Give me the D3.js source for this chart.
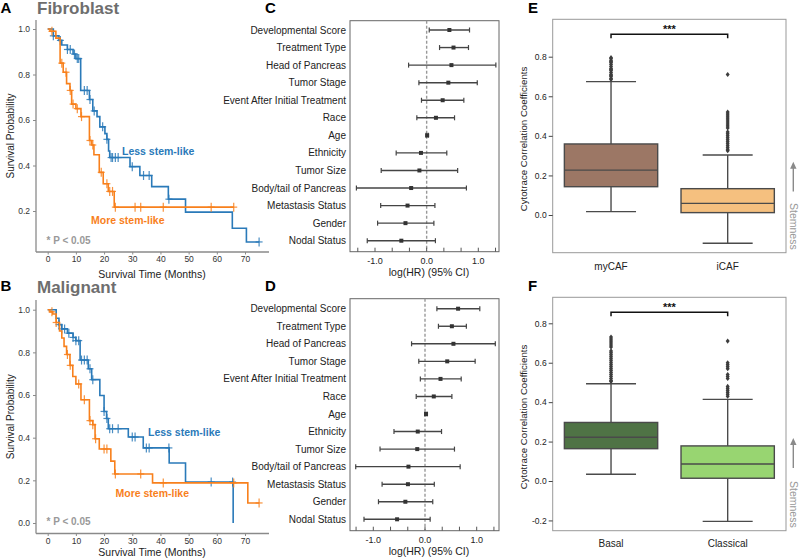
<!DOCTYPE html>
<html><head><meta charset="utf-8">
<script src="https://cdn.jsdelivr.net/npm/d3@7"></script>
<style>body{margin:0;background:#fff}</style>
</head><body>
<script>
// ---------- DATA ----------
const kmTicksX = [0,10,20,30,40,50,60,70];
const kmTicksYA = [0.2,0.4,0.6,0.8,1.0];
const kmTicksYB = [0.0,0.2,0.4,0.6,0.8,1.0];

const blueA_t = [0,2,4,5,7,9,10,11.7,14.8,16,17.5,18.5,20.3,21,21.6,22,29.2,32.7,36.9,42.8,48.9,65.5,70.5,75];
const blueA_s = [1,0.97,0.95,0.93,0.91,0.89,0.87,0.73,0.69,0.64,0.615,0.57,0.54,0.515,0.464,0.435,0.395,0.356,0.307,0.252,0.195,0.124,0.064,0.064];
const blueA_c = [2,4.5,7,8,9.5,10.5,11,13,14,15,16.5,19.5,21,22.5,23,24,25,30,34,36,43,75];

const orangeA_t = [0,0.8,2.9,4.4,5.5,6.7,7.9,8.5,10,11.8,14.8,15.6,16.4,18.3,19.7,21.5,23.6,66];
const orangeA_s = [1,0.99,0.96,0.85,0.81,0.76,0.73,0.67,0.65,0.615,0.51,0.49,0.447,0.37,0.32,0.286,0.217,0.217];
const orangeA_c = [1.5,5,6.5,8,9,10.5,12,15,16,19,21,22,23,24,31,33,41,58,66];

const blueB_t = [0,3,4,5,7,9,10,11.5,14.4,15.6,18.5,20,20.9,21.5,28.6,33.9,43.1,48.9,65.8];
const blueB_s = [1,0.96,0.93,0.91,0.89,0.87,0.855,0.764,0.723,0.672,0.598,0.523,0.49,0.442,0.403,0.352,0.281,0.192,0.0];
const blueB_c = [4,5,6,7.5,9,10,11,12,13,14,15,16,20,21,22,23,25,30,31,35,36,43,58,65.6];

const orangeB_t = [0,0.8,1.8,3,4.2,5,5.8,6.7,7.9,8.9,10,11.8,14.8,16,16.8,18.3,22.4,23.8,37.2,71,75];
const orangeB_s = [1,0.99,0.98,0.94,0.9,0.867,0.828,0.79,0.739,0.687,0.652,0.578,0.48,0.461,0.395,0.347,0.29,0.23,0.188,0.094,0.094];
const orangeB_c = [1.5,3,7,8,11,13,15,16,17,20,21,24,33,41,66,75];

const covariates = ["Developmental Score","Treatment Type","Head of Pancreas","Tumor Stage","Event After Initial Treatment","Race","Age","Ethnicity","Tumor Size","Body/tail of Pancreas","Metastasis Status","Gender","Nodal Status"];
const hrC = [0.44,0.52,0.48,0.42,0.31,0.18,0.01,-0.11,-0.14,-0.30,-0.37,-0.41,-0.49];
const loC = [0.05,0.25,-0.35,-0.15,-0.10,-0.19,-0.01,-0.59,-0.88,-1.36,-0.89,-0.95,-1.15];
const hiC = [0.83,0.81,1.34,0.98,0.72,0.54,0.03,0.39,0.60,0.77,0.16,0.14,0.17];
const hrD = [0.64,0.52,0.55,0.43,0.30,0.17,0.02,-0.14,-0.15,-0.32,-0.33,-0.38,-0.54];
const loD = [0.23,0.26,-0.26,-0.12,-0.09,-0.17,0.00,-0.60,-0.87,-1.34,-0.83,-0.90,-1.18];
const hiD = [1.06,0.80,1.36,0.97,0.70,0.52,0.04,0.32,0.57,0.68,0.18,0.15,0.10];
const forestTickLabels = [-1,0,1];

const groupsE = ["myCAF","iCAF"];
const statsE = [ {q1:0.143, med:0.227, q3:0.359, lo:0.017, hi:0.674},
                 {q1:0.012, med:0.059, q3:0.133, lo:-0.143, hi:0.303} ];
const outE = [ [0.685,0.69,0.70,0.705,0.71,0.72,0.73,0.735,0.74,0.75,0.76,0.77,0.775,0.78,0.79,0.795],
               [0.325,0.33,0.34,0.35,0.36,0.37,0.38,0.39,0.40,0.41,0.42,0.44,0.45,0.46,0.47,0.48,0.49,0.50,0.51,0.52,0.71] ];
const groupsF = ["Basal","Classical"];
const statsF = [ {q1:0.164, med:0.222, q3:0.297, lo:0.034, hi:0.493},
                 {q1:0.014, med:0.086, q3:0.178, lo:-0.205, hi:0.414} ];
const outF = [ [0.505,0.51,0.52,0.53,0.54,0.55,0.56,0.57,0.58,0.59,0.60,0.61,0.62,0.63,0.64,0.65,0.66,0.68,0.69,0.70,0.71,0.72,0.73],
               [0.43,0.44,0.45,0.46,0.47,0.48,0.52,0.53,0.54,0.57,0.58,0.59,0.60,0.71] ];
const boxTicksE = [0.0,0.2,0.4,0.6,0.8];
const boxTicksF = [-0.2,0.0,0.2,0.4,0.6,0.8];

// ---------- DRAW ----------
const FONT = "'Liberation Sans', Arial, Helvetica, sans-serif";
const BLUE = "#2a7ab9", ORANGE = "#f8801c";
const svg = d3.select("body").append("svg").attr("width",800).attr("height",558)
  .style("font-family",FONT);
svg.append("rect").attr("width",800).attr("height",558).attr("fill","#fff");

function txt(g,x,y,s,o={}){
  const t=g.append("text").attr("x",x).attr("y",y).text(s)
    .attr("font-size",o.size||10).attr("fill",o.fill||"#222")
    .attr("text-anchor",o.anchor||"start").attr("font-weight",o.weight||"normal");
  if(o.rotate!==undefined) t.attr("transform",`rotate(${o.rotate},${x},${y})`);
  return t;
}

function stepAt(ts,ss,t){ let v=ss[0]; for(let i=0;i<ts.length;i++){ if(ts[i]<=t) v=ss[i]; } return v; }

function km(cfg){
  const g = svg.append("g");
  const x = d3.scaleLinear().domain([0,70]).range([47.7,245]);
  const y = d3.scaleLinear().domain([0,1]).range([cfg.y0,cfg.y1]);
  g.append("line").attr("x1",36).attr("x2",36).attr("y1",cfg.axTop).attr("y2",cfg.axBot).attr("stroke","#8a8a8a").attr("stroke-width",1.3);
  g.append("line").attr("x1",36).attr("x2",269).attr("y1",cfg.axBot).attr("y2",cfg.axBot).attr("stroke","#8a8a8a").attr("stroke-width",1.3);
  const ay = g.append("g").attr("transform","translate(36,0)")
    .call(d3.axisLeft(y).tickValues(cfg.yTicks).tickFormat(d=>d.toFixed(1)).tickSize(3));
  const ax = g.append("g").attr("transform",`translate(0,${cfg.axBot})`)
    .call(d3.axisBottom(x).tickValues(kmTicksX).tickSize(2.5).tickPadding(1.5));
  [ay,ax].forEach(a=>{ a.select(".domain").remove();
    a.selectAll("line").attr("stroke","#8a8a8a");
    a.selectAll("text").attr("font-size",8.5).attr("fill","#333").style("font-family",FONT); });
  const line = d3.line().x(d=>x(d[0])).y(d=>y(d[1])).curve(d3.curveStepAfter);
  cfg.series.forEach(s=>{
    const pts = s.t.map((t,i)=>[t,s.s[i]]);
    g.append("path").attr("d",line(pts)).attr("fill","none").attr("stroke",s.color).attr("stroke-width",1.6);
    s.c.forEach(ct=>{
      const cx=x(ct), cy=y(stepAt(s.t,s.s,ct));
      g.append("line").attr("x1",cx).attr("x2",cx).attr("y1",cy-4.5).attr("y2",cy+4.5).attr("stroke",s.color).attr("stroke-width",1.2).attr("opacity",0.85);
      g.append("line").attr("x1",cx-3.5).attr("x2",cx+3.5).attr("y1",cy).attr("y2",cy).attr("stroke",s.color).attr("stroke-width",1.2).attr("opacity",0.85);
    });
  });
  txt(g,cfg.lessX,cfg.lessY,"Less stem-like",{fill:BLUE,weight:"bold",size:10.5});
  txt(g,cfg.moreX,cfg.moreY,"More stem-like",{fill:ORANGE,weight:"bold",size:10.5});
  txt(g,46.5,cfg.pY,"* P < 0.05",{fill:"#999",weight:"bold",size:10});
  txt(g,10,(cfg.axTop+cfg.axBot)/2,"Survival Probability",{anchor:"middle",rotate:-90,size:10,fill:"#222"}).attr("dy","0.35em");
  txt(g,152,cfg.xTitleY,"Survival Time (Months)",{anchor:"middle",size:10.5,fill:"#222"});
  txt(g,37,cfg.titleY,cfg.title,{fill:"#6e6e6e",weight:"bold",size:17});
  txt(g,0.5,cfg.letterY,cfg.letter,{fill:"#000",weight:"bold",size:15});
}

km({title:"Fibroblast",letter:"A",letterY:13,titleY:14,y0:256.5,y1:29,axTop:20,axBot:252,yTicks:kmTicksYA,
    xTitleY:277.5,lessX:122,lessY:154.5,moreX:91,moreY:224,pY:244,
    series:[{t:blueA_t,s:blueA_s,c:blueA_c,color:BLUE},{t:orangeA_t,s:orangeA_s,c:orangeA_c,color:ORANGE}]});
km({title:"Malignant",letter:"B",letterY:291,titleY:293,y0:523,y1:309.7,axTop:300,axBot:533.5,yTicks:kmTicksYB,
    xTitleY:556,lessX:148,lessY:436,moreX:115.5,moreY:497,pY:525,
    series:[{t:blueB_t,s:blueB_s,c:blueB_c,color:BLUE},{t:orangeB_t,s:orangeB_s,c:orangeB_c,color:ORANGE}]});

function forest(cfg){
  const g = svg.append("g");
  const x = d3.scaleLinear().domain([-1,1]).range([cfg.xm1,cfg.xp1]);
  const y = d3.scalePoint().domain(covariates).range([cfg.r0,cfg.r1]);
  g.append("rect").attr("x",350).attr("y",cfg.top).attr("width",149).attr("height",cfg.bot-cfg.top)
    .attr("fill","none").attr("stroke","#666").attr("stroke-width",1);
  g.append("line").attr("x1",x(0)).attr("x2",x(0)).attr("y1",cfg.top).attr("y2",cfg.bot)
    .attr("stroke","#999").attr("stroke-width",1.4).attr("stroke-dasharray","3,2");
  d3.range(-4,5).map(k=>k/3).forEach(v=>{
    g.append("line").attr("x1",x(v)).attr("x2",x(v)).attr("y1",cfg.bot).attr("y2",cfg.bot-4).attr("stroke","#555").attr("stroke-width",1);
  });
  forestTickLabels.forEach(v=>txt(g,x(v),cfg.bot+12.5,v.toFixed(1),{anchor:"middle",size:9,fill:"#222"}));
  txt(g,429,cfg.bot+24,"log(HR) (95% CI)",{anchor:"middle",size:10.5,fill:"#222"});
  covariates.forEach((c,i)=>{
    const yy=y(c);
    txt(g,346,yy,c,{anchor:"end",size:10,fill:"#222"}).attr("dy","0.35em");
    g.append("line").attr("x1",x(cfg.lo[i])).attr("x2",x(cfg.hi[i])).attr("y1",yy).attr("y2",yy).attr("stroke","#444").attr("stroke-width",1.4);
    [cfg.lo[i],cfg.hi[i]].forEach(v=>g.append("line").attr("x1",x(v)).attr("x2",x(v)).attr("y1",yy-2.5).attr("y2",yy+2.5).attr("stroke","#444").attr("stroke-width",1.2));
    g.append("rect").attr("x",x(cfg.hr[i])-2).attr("y",yy-2).attr("width",4).attr("height",4).attr("fill","#333");
  });
  txt(g,265,cfg.letterY,cfg.letter,{fill:"#000",weight:"bold",size:15});
}
forest({letter:"C",letterY:13,xm1:375,xp1:478.3,r0:30,r1:240.7,top:20.7,bot:251.7,hr:hrC,lo:loC,hi:hiC});
forest({letter:"D",letterY:291,xm1:373.3,xp1:476.7,r0:308.7,r1:519.3,top:298.7,bot:530.7,hr:hrD,lo:loD,hi:hiD});

function boxes(cfg){
  const g = svg.append("g");
  const x = d3.scaleBand().domain(cfg.groups).range([552.7,786]);
  const y = d3.scaleLinear().domain([0,0.8]).range([cfg.y0,cfg.y8]);
  g.append("rect").attr("x",552.7).attr("y",cfg.top).attr("width",786-552.7).attr("height",cfg.bot-cfg.top)
    .attr("fill","none").attr("stroke","#999").attr("stroke-width",1);
  const ay = g.append("g").attr("transform","translate(552.7,0)")
    .call(d3.axisLeft(y).tickValues(cfg.ticks).tickFormat(d=>d.toFixed(1)).tickSize(4).tickPadding(2));
  ay.select(".domain").remove();
  ay.selectAll("line").attr("stroke","#444");
  ay.selectAll("text").attr("font-size",8.5).attr("fill","#222").style("font-family",FONT);
  const bw = x.bandwidth()*0.8;
  cfg.groups.forEach((gr,i)=>{
    const cx = x(gr)+x.bandwidth()/2, s=cfg.stats[i];
    const st = "#4a4a4a";
    g.append("line").attr("x1",cx).attr("x2",cx).attr("y1",y(s.lo)).attr("y2",y(s.q1)).attr("stroke",st).attr("stroke-width",1.4);
    g.append("line").attr("x1",cx).attr("x2",cx).attr("y1",y(s.q3)).attr("y2",y(s.hi)).attr("stroke",st).attr("stroke-width",1.4);
    [s.lo,s.hi].forEach(v=>g.append("line").attr("x1",cx-25).attr("x2",cx+25).attr("y1",y(v)).attr("y2",y(v)).attr("stroke",st).attr("stroke-width",1.4));
    g.append("rect").attr("x",cx-bw/2).attr("y",y(s.q3)).attr("width",bw).attr("height",y(s.q1)-y(s.q3))
      .attr("fill",cfg.colors[i]).attr("stroke",st).attr("stroke-width",1.4);
    g.append("line").attr("x1",cx-bw/2).attr("x2",cx+bw/2).attr("y1",y(s.med)).attr("y2",y(s.med)).attr("stroke",st).attr("stroke-width",1.4);
    cfg.out[i].forEach(v=>{
      const yy=y(v);
      g.append("path").attr("d",`M${cx},${yy-2.6}L${cx+2},${yy}L${cx},${yy+2.6}L${cx-2},${yy}Z`).attr("fill","#3d3d3d");
    });
    txt(g,cx,cfg.labelY,gr,{anchor:"middle",size:10,fill:"#222"});
  });
  const c1 = x(cfg.groups[0])+x.bandwidth()/2, c2 = x(cfg.groups[1])+x.bandwidth()/2;
  g.append("path").attr("d",`M${c1},${cfg.brY+4}V${cfg.brY}H${c2}V${cfg.brY+4}`).attr("fill","none").attr("stroke","#111").attr("stroke-width",1.5);
  txt(g,(c1+c2)/2,cfg.brY-1,"***",{anchor:"middle",size:11,weight:"bold",fill:"#111"});
  txt(g,523.5,(cfg.top+cfg.bot)/2+3,"Cytotrace Correlation Coefficients",{anchor:"middle",rotate:-90,size:9.7,fill:"#222"}).attr("dy","0.35em");
  g.append("line").attr("x1",793.3).attr("x2",793.3).attr("y1",cfg.arrBot).attr("y2",cfg.arrTop+5).attr("stroke","#8a8a8a").attr("stroke-width",1.4);
  g.append("path").attr("d",`M${793.3},${cfg.arrTop}L${796.5},${cfg.arrTop+7}L${790.1},${cfg.arrTop+7}Z`).attr("fill","#8a8a8a");
  txt(g,789.5,cfg.stemTop,"Stemness",{size:10.5,fill:"#999",rotate:90});
  txt(g,528,cfg.letterY,cfg.letter,{fill:"#000",weight:"bold",size:15});
}
boxes({letter:"E",letterY:13,groups:groupsE,stats:statsE,out:outE,colors:["#9c7765","#f5c07f"],
       y0:215,y8:56.7,top:19.3,bot:252.7,ticks:boxTicksE,labelY:270,brY:34.3,arrTop:161.7,arrBot:191.5,stemTop:203});
boxes({letter:"F",letterY:291,groups:groupsF,stats:statsF,out:outF,colors:["#4f7345","#98d571"],
       y0:481,y8:323.3,top:297.3,bot:530.7,ticks:boxTicksF,labelY:547,brY:312.3,arrTop:438,arrBot:468,stemTop:481});
</script>
</body></html>
